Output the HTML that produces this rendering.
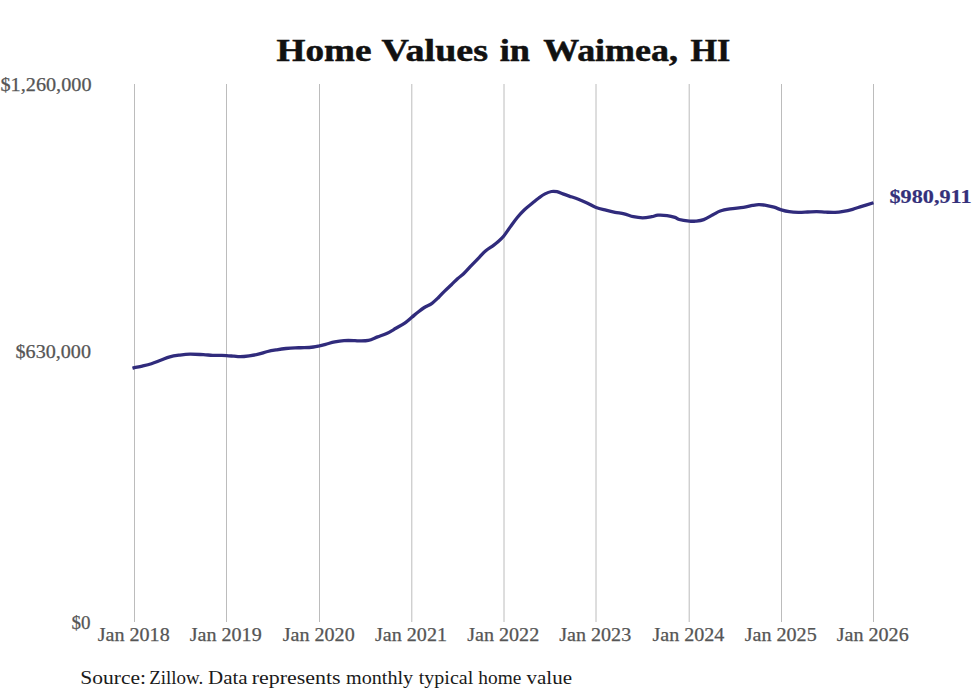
<!DOCTYPE html>
<html><head><meta charset="utf-8"><style>
html,body{margin:0;padding:0;background:#fff;}
svg{display:block;}
text{font-family:"Liberation Serif",serif;}
</style></head><body>
<svg width="980" height="699" viewBox="0 0 980 699">
<rect width="980" height="699" fill="#fff"/>
<g stroke="#bcbcbc" stroke-width="1">
<line x1="134.50" y1="84" x2="134.50" y2="622" />
<line x1="226.50" y1="84" x2="226.50" y2="622" />
<line x1="319.50" y1="84" x2="319.50" y2="622" />
<line x1="411.80" y1="84" x2="411.80" y2="622" />
<line x1="504.00" y1="84" x2="504.00" y2="622" />
<line x1="596.00" y1="84" x2="596.00" y2="622" />
<line x1="689.20" y1="84" x2="689.20" y2="622" />
<line x1="781.50" y1="84" x2="781.50" y2="622" />
<line x1="873.50" y1="84" x2="873.50" y2="622" />
</g>
<g font-size="31.5" font-weight="bold" fill="#111" stroke="#111" stroke-width="0.5"><text x="276.60" y="60.5" textLength="95.01" lengthAdjust="spacingAndGlyphs">Home</text><text x="381.60" y="60.5" textLength="106.40" lengthAdjust="spacingAndGlyphs">Values</text><text x="499.78" y="60.5" textLength="30.24" lengthAdjust="spacingAndGlyphs">in</text><text x="543.20" y="60.5" textLength="134.80" lengthAdjust="spacingAndGlyphs">Waimea,</text><text x="690.59" y="60.5" textLength="39.83" lengthAdjust="spacingAndGlyphs">HI</text></g>
<g font-size="18" fill="#555" stroke="#555" stroke-width="0.25">
<text x="91.5" y="90.8" text-anchor="end" textLength="91" lengthAdjust="spacingAndGlyphs">$1,260,000</text>
<text x="91" y="358.4" text-anchor="end" textLength="75.5" lengthAdjust="spacingAndGlyphs">$630,000</text>
<text x="90.5" y="628.8" text-anchor="end" textLength="19" lengthAdjust="spacingAndGlyphs">$0</text>
<text x="133.70" y="640.5" text-anchor="middle" textLength="72" lengthAdjust="spacingAndGlyphs">Jan 2018</text>
<text x="225.70" y="640.5" text-anchor="middle" textLength="72" lengthAdjust="spacingAndGlyphs">Jan 2019</text>
<text x="318.70" y="640.5" text-anchor="middle" textLength="72" lengthAdjust="spacingAndGlyphs">Jan 2020</text>
<text x="411.00" y="640.5" text-anchor="middle" textLength="72" lengthAdjust="spacingAndGlyphs">Jan 2021</text>
<text x="503.20" y="640.5" text-anchor="middle" textLength="72" lengthAdjust="spacingAndGlyphs">Jan 2022</text>
<text x="595.20" y="640.5" text-anchor="middle" textLength="72" lengthAdjust="spacingAndGlyphs">Jan 2023</text>
<text x="688.40" y="640.5" text-anchor="middle" textLength="72" lengthAdjust="spacingAndGlyphs">Jan 2024</text>
<text x="780.70" y="640.5" text-anchor="middle" textLength="72" lengthAdjust="spacingAndGlyphs">Jan 2025</text>
<text x="872.70" y="640.5" text-anchor="middle" textLength="72" lengthAdjust="spacingAndGlyphs">Jan 2026</text>
</g>
<path d="M132.50,368.30 C132.83,368.20 132.88,368.07 134.50,367.70 C136.12,367.33 139.38,366.77 142.20,366.10 C145.02,365.43 148.33,364.67 151.40,363.70 C154.47,362.73 157.53,361.43 160.60,360.30 C163.67,359.17 166.73,357.75 169.80,356.90 C172.87,356.05 175.63,355.67 179.00,355.20 C182.37,354.73 185.93,354.18 190.00,354.10 C194.07,354.02 199.63,354.50 203.40,354.70 C207.17,354.90 209.55,355.18 212.60,355.30 C215.65,355.42 219.37,355.35 221.70,355.40 C224.03,355.45 224.55,355.47 226.60,355.60 C228.65,355.73 231.75,356.02 234.00,356.20 C236.25,356.38 237.57,356.77 240.10,356.70 C242.63,356.63 246.15,356.22 249.20,355.80 C252.25,355.38 255.33,354.92 258.40,354.20 C261.47,353.48 264.55,352.23 267.60,351.50 C270.65,350.77 273.65,350.30 276.70,349.80 C279.75,349.30 282.83,348.83 285.90,348.50 C288.97,348.17 292.05,347.93 295.10,347.80 C298.15,347.67 301.15,347.83 304.20,347.70 C307.25,347.57 310.85,347.32 313.40,347.00 C315.95,346.68 317.47,346.25 319.50,345.80 C321.53,345.35 323.05,344.95 325.60,344.30 C328.15,343.65 331.73,342.52 334.80,341.90 C337.87,341.28 340.63,340.82 344.00,340.60 C347.37,340.38 352.47,340.55 355.00,340.60 C357.53,340.65 356.97,340.93 359.20,340.90 C361.43,340.87 365.33,341.07 368.40,340.40 C371.47,339.73 374.55,338.05 377.60,336.90 C380.65,335.75 383.65,334.93 386.70,333.50 C389.75,332.07 392.83,330.08 395.90,328.30 C398.97,326.52 402.45,324.63 405.10,322.80 C407.75,320.97 409.67,319.07 411.80,317.30 C413.93,315.53 415.82,313.83 417.90,312.20 C419.98,310.57 421.95,308.98 424.30,307.50 C426.65,306.02 429.63,304.97 432.00,303.30 C434.37,301.63 436.35,299.58 438.50,297.50 C440.65,295.42 442.75,292.93 444.90,290.80 C447.05,288.67 449.25,286.75 451.40,284.70 C453.55,282.65 455.77,280.32 457.80,278.50 C459.83,276.68 461.32,275.98 463.60,273.80 C465.88,271.62 468.88,268.15 471.50,265.40 C474.12,262.65 476.92,259.73 479.30,257.30 C481.68,254.87 483.48,252.75 485.80,250.80 C488.12,248.85 491.17,247.10 493.20,245.60 C495.23,244.10 496.23,243.40 498.00,241.80 C499.77,240.20 501.72,238.53 503.80,236.00 C505.88,233.47 508.25,229.68 510.50,226.60 C512.75,223.52 515.02,220.27 517.30,217.50 C519.58,214.73 521.62,212.45 524.20,210.00 C526.78,207.55 530.37,204.80 532.80,202.80 C535.23,200.80 536.77,199.48 538.80,198.00 C540.83,196.52 542.88,194.98 545.00,193.90 C547.12,192.82 549.50,191.87 551.50,191.50 C553.50,191.13 555.10,191.30 557.00,191.70 C558.90,192.10 560.87,193.17 562.90,193.90 C564.93,194.63 566.62,195.22 569.20,196.10 C571.78,196.98 575.33,198.02 578.40,199.20 C581.47,200.38 584.65,201.82 587.60,203.20 C590.55,204.58 593.05,206.33 596.10,207.50 C599.15,208.67 602.73,209.40 605.90,210.20 C609.07,211.00 612.05,211.70 615.10,212.30 C618.15,212.90 621.15,213.07 624.20,213.80 C627.25,214.53 630.33,216.03 633.40,216.70 C636.47,217.37 639.55,217.80 642.60,217.80 C645.65,217.80 649.15,217.13 651.70,216.70 C654.25,216.27 655.33,215.38 657.90,215.20 C660.47,215.02 664.25,215.23 667.10,215.60 C669.95,215.97 672.98,216.75 675.00,217.40 C677.02,218.05 676.82,218.88 679.20,219.50 C681.58,220.12 686.55,220.83 689.30,221.10 C692.05,221.37 693.30,221.35 695.70,221.10 C698.10,220.85 700.83,220.65 703.70,219.60 C706.57,218.55 710.15,216.23 712.90,214.80 C715.65,213.37 717.35,211.98 720.20,211.00 C723.05,210.02 726.13,209.52 730.00,208.90 C733.87,208.28 739.63,207.88 743.40,207.30 C747.17,206.72 750.05,205.85 752.60,205.40 C755.15,204.95 756.67,204.65 758.70,204.60 C760.73,204.55 762.25,204.67 764.80,205.10 C767.35,205.53 771.25,206.40 774.00,207.20 C776.75,208.00 778.77,209.15 781.30,209.90 C783.83,210.65 786.35,211.30 789.20,211.70 C792.05,212.10 795.33,212.25 798.40,212.30 C801.47,212.35 804.55,212.12 807.60,212.00 C810.65,211.88 813.65,211.57 816.70,211.60 C819.75,211.63 822.83,212.07 825.90,212.20 C828.97,212.33 832.18,212.53 835.10,212.40 C838.02,212.27 840.48,211.92 843.40,211.40 C846.32,210.88 849.55,210.13 852.60,209.30 C855.65,208.47 858.22,207.50 861.70,206.40 C865.18,205.30 871.53,203.32 873.50,202.70" fill="none" stroke="#302b7c" stroke-width="3.3" stroke-linecap="butt" stroke-linejoin="round"/>
<text x="889.5" y="203.4" font-size="18" font-weight="bold" fill="#34307a" stroke="#34307a" stroke-width="0.2" textLength="82" lengthAdjust="spacingAndGlyphs">$980,911</text>
<g font-size="19" fill="#1a1a1a"><text x="80.33" y="683.7" textLength="65.75" lengthAdjust="spacingAndGlyphs">Source:</text><text x="149.19" y="683.7" textLength="54.05" lengthAdjust="spacingAndGlyphs">Zillow.</text><text x="207.97" y="683.7" textLength="39.65" lengthAdjust="spacingAndGlyphs">Data</text><text x="251.79" y="683.7" textLength="88.81" lengthAdjust="spacingAndGlyphs">represents</text><text x="345.99" y="683.7" textLength="67.22" lengthAdjust="spacingAndGlyphs">monthly</text><text x="418.79" y="683.7" textLength="54.42" lengthAdjust="spacingAndGlyphs">typical</text><text x="478.39" y="683.7" textLength="43.02" lengthAdjust="spacingAndGlyphs">home</text><text x="526.59" y="683.7" textLength="45.41" lengthAdjust="spacingAndGlyphs">value</text></g>
</svg>
</body></html>
